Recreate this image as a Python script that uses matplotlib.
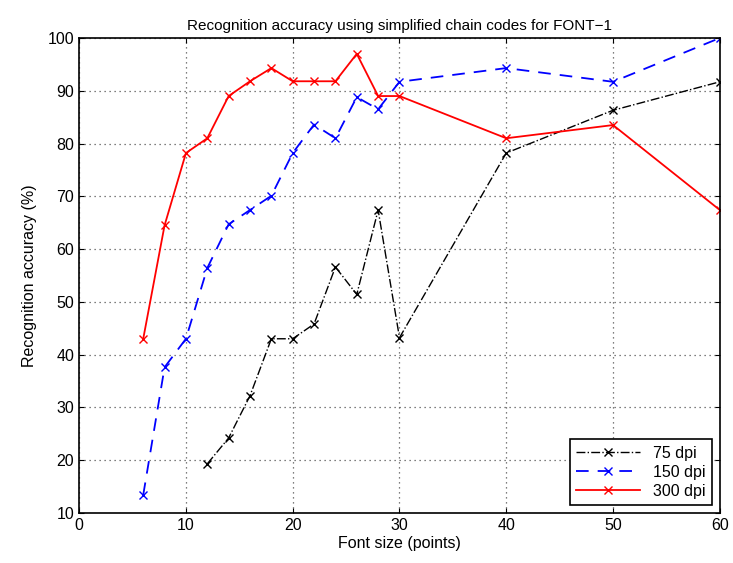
import numpy as np
import matplotlib
matplotlib.use("Agg")
import matplotlib.pyplot as plt

plt.rcParams['font.family'] = ['Liberation Sans', 'DejaVu Sans']

# font sizes (points)
x75 = [12, 14, 16, 18, 20, 22, 24, 26, 28, 30, 40, 50, 60]
acc75 = [19.3, 24.2, 32.2, 43, 43, 45.8, 56.6, 51.4, 67.4, 43.2, 78.2, 86.3, 91.7]

x150 = [6, 8, 10, 12, 14, 16, 18, 20, 22, 24, 26, 28, 30, 40, 50, 60]
acc150 = [13.4, 37.6, 43, 56.4, 64.7, 67.4, 70.1, 78.2, 83.6, 81, 88.8, 86.5, 91.7, 94.3, 91.7, 100]

x300 = [6, 8, 10, 12, 14, 16, 18, 20, 22, 24, 26, 28, 30, 40, 50, 60]
acc300 = [43, 64.5, 78.2, 81, 89, 91.8, 94.3, 91.8, 91.8, 91.8, 97, 89, 89, 81, 83.5, 67.4]

fig = plt.figure(figsize=(7.33, 5.63), dpi=100)
ax = fig.add_axes([0.108, 0.089, 0.874, 0.8435])

ax.plot(x75, acc75, color='black', linestyle='-.', marker='x', markersize=6, linewidth=1, label='75 dpi')
ax.plot(x150, acc150, color='blue', linestyle=(0, (7, 5)), marker='x', markersize=6, linewidth=1.3, label='150 dpi')
ax.plot(x300, acc300, color='red', linestyle='-', marker='x', markersize=6, linewidth=1.3, label='300 dpi')

ax.set_xlim(0, 60)
ax.set_ylim(10, 100)
ax.set_xticks(np.arange(0, 61, 10))
ax.set_yticks(np.arange(10, 101, 10))
ax.grid(True, linestyle=(0, (1, 3)), color='#555555', linewidth=0.9)
ax.tick_params(direction='in', top=True, right=True, labelsize=11.5)
for s in ax.spines.values():
    s.set_linewidth(1.2)

ax.set_xlabel('Font size (points)', fontsize=11.5, labelpad=2)
ax.set_ylabel('Recognition accuracy (%)', fontsize=11.5, labelpad=8)
ax.set_title('Recognition accuracy using simplified chain codes for FONT\u22121', fontsize=11)

leg = ax.legend(loc='lower right', fontsize=11.5, fancybox=False, edgecolor='black', framealpha=1,
                borderaxespad=0.5, handlelength=4, labelspacing=0.25, borderpad=0.4)
leg.get_frame().set_linewidth(1.2)

fig.savefig('out.png')
